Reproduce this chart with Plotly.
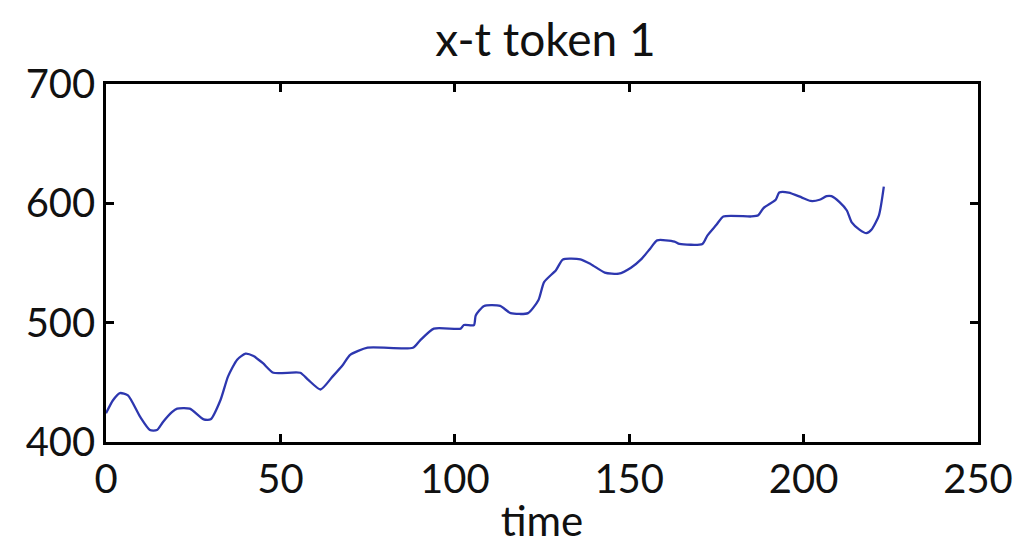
import plotly.graph_objects as go

# data
time = [0, 2, 4, 6.3, 9.8, 12.6, 14.6, 16.4, 18.9, 20.4, 24, 28, 30, 32.8, 35, 37.6, 40, 42.3,
        45, 48, 55.7, 58, 61.5, 65, 68, 70, 75, 88, 90, 94, 101.7, 102.6, 105.5, 106, 108.4,
        113, 116, 121, 124, 125.6, 129, 131, 136, 139, 143, 147, 150.5, 153.4, 156, 158,
        163, 164.4, 171, 172.4, 175, 177, 185, 187, 188.5, 192, 193, 195.7, 199.4, 202,
        204.6, 206.6, 208, 210.3, 212.4, 213.8, 216, 218, 219.5, 221.6, 223]
value = [424, 435, 441, 439, 421, 410, 410, 417, 425, 428, 428, 419, 419, 435, 455, 469, 474, 472,
         466, 458, 458, 452, 444, 455, 465, 473, 479, 479, 485, 495, 495, 498, 498, 506, 514,
         514, 508, 508, 519, 534, 544, 553, 553, 549, 542, 541, 546, 553, 562, 569,
         568, 566, 566, 573, 582, 589, 589, 590, 596, 603, 609, 609, 605, 602,
         603, 606, 606, 601, 594, 584, 578, 575, 578, 590, 614]

x_ticks = [0, 50, 100, 150, 200, 250]
y_ticks = [400, 500, 600, 700]
title_text = "x-t token 1"
x_label = "time"

FONT = "Lato, 'Open Sans', sans-serif"

fig = go.Figure()
fig.add_trace(go.Scatter(x=time, y=value, mode="lines",
                         line=dict(color="rgb(45,55,175)", width=2.3, shape="spline", smoothing=0.6),
                         showlegend=False, hoverinfo="skip"))

axis_common = dict(showline=True, linecolor="black", linewidth=2.5, mirror="ticks",
                   ticks="inside", ticklen=8, tickwidth=2.5, tickcolor="black",
                   showgrid=False, zeroline=False, automargin=False,
                   tickfont=dict(family=FONT, size=40, color="#111"))

# page body has an 8px default margin, so the figure is offset by 8px
fig.update_layout(
    width=1018, height=537,
    margin=dict(l=98, r=48, t=76, b=103),
    paper_bgcolor="white", plot_bgcolor="white",
    title=dict(text=title_text, x=0.528, xanchor="center", y=0.94, yanchor="middle",
               font=dict(family=FONT, size=46, color="#111")),
    xaxis=dict(range=[0, 250], tickvals=x_ticks, **axis_common,
               title=dict(text=x_label, font=dict(family=FONT, size=42, color="#111"), standoff=8)),
    yaxis=dict(range=[400, 700], tickvals=y_ticks, ticklabelstandoff=0, **axis_common),
)

fig.write_html("out.html")
